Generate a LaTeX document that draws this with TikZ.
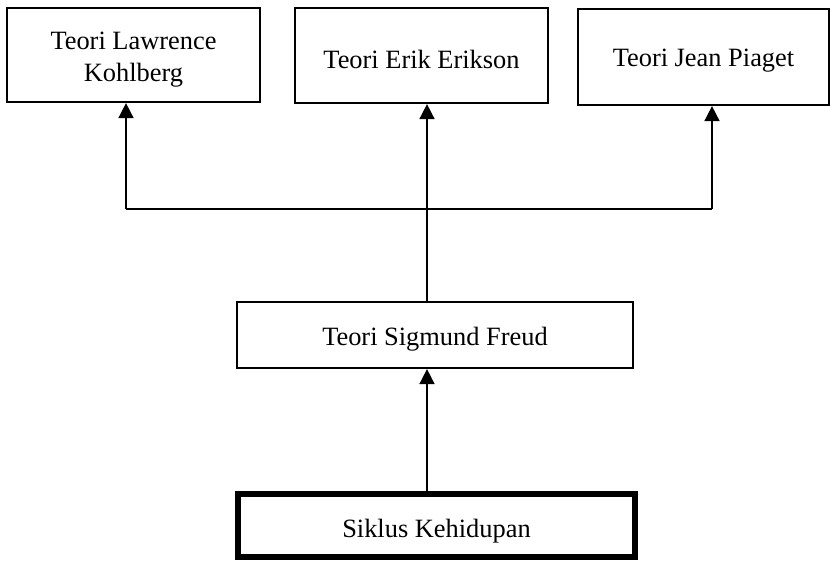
\documentclass[tikz,border=0pt]{standalone}
\usepackage{fontspec}
\setmainfont{Liberation Serif}
\usetikzlibrary{arrows.meta}
\newcommand{\lowertxt}[2]{\raisebox{-#1}[\height][\depth]{#2}}
\begin{document}
\begin{tikzpicture}[x=1pt,y=-1pt,
  box/.style={draw,line width=2.2pt,rectangle,inner sep=0pt,align=center,
    font=\fontsize{26.4}{32}\selectfont},
  thickbox/.style={box,line width=6.5pt},
  conn/.style={line width=1.6pt},
  arr/.style={conn,-{Triangle[length=15pt,width=15pt]}}]
\useasboundingbox (0,0) rectangle (830,561);
\node[box,minimum width=253pt,minimum height=94pt] (K) at (133.5,55)
  {\lowertxt{4pt}{\begin{tabular}{@{}c@{}}Teori Lawrence\\Kohlberg\end{tabular}}};
\node[box,minimum width=253pt,minimum height=95pt] (E) at (421.5,55.5) {\lowertxt{4pt}{Teori Erik Erikson}};
\node[box,minimum width=251pt,minimum height=96pt] (P) at (703.5,57) {\lowertxt{4pt}{Teori Jean Piaget}};
\node[box,minimum width=396pt,minimum height=66pt] (F) at (435,335) {\lowertxt{4pt}{Teori Sigmund Freud}};
\node[thickbox,minimum width=397pt,minimum height=63pt] (S) at (436.5,525.5) {\lowertxt{6pt}{Siklus Kehidupan}};
\coordinate (jl) at (126,209);
\coordinate (jr) at (712,209);
\coordinate (cx) at (427,0);
\draw[conn] (jl) -- (jr);
\draw[arr] (jl) -- (K.south -| jl);
\draw[arr] (jr) -- (P.south -| jr);
\draw[arr] (F.north -| cx) -- (E.south -| cx);
\draw[arr] (S.north -| cx) -- (F.south -| cx);
\end{tikzpicture}
\end{document}
